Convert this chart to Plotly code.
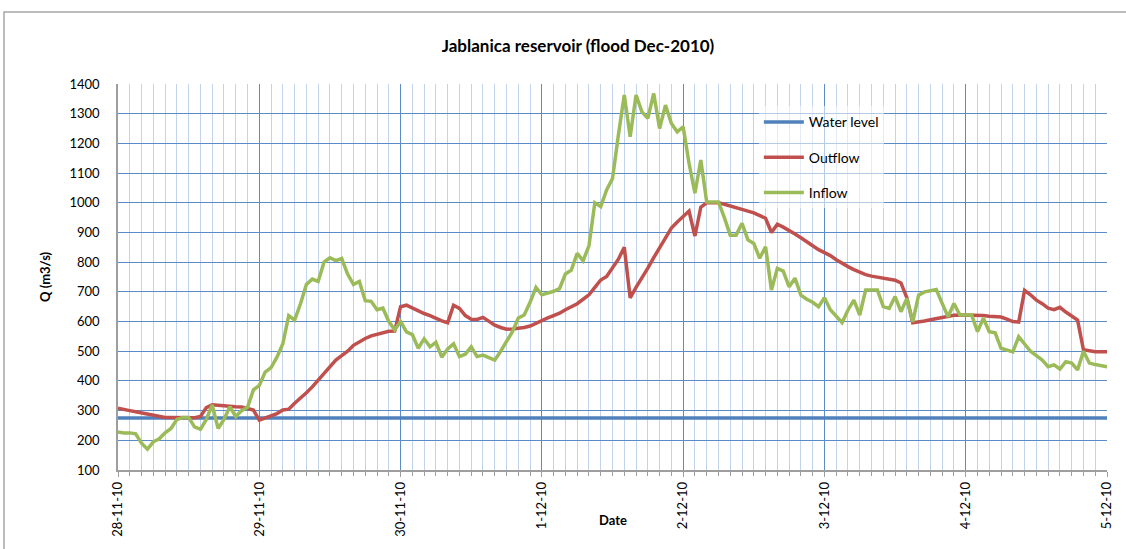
import pandas as pd
import plotly.graph_objects as go

start = "2010-11-28 00:00"
day_labels = ["28-11-10", "29-11-10", "30-11-10", "1-12-10", "2-12-10", "3-12-10", "4-12-10", "5-12-10"]
day_dates = ["2010-11-28", "2010-11-29", "2010-11-30", "2010-12-01", "2010-12-02", "2010-12-03", "2010-12-04", "2010-12-05"]

hours = list(range(169))

inflow = [228, 225, 225, 222, 190, 170, 195, 205, 225, 240, 270, 277, 277, 245, 237, 270, 319, 240, 270, 313,
          280, 300, 311, 370, 385, 430, 445, 480, 525, 620, 605, 660, 725, 743, 735, 800, 815, 805, 812, 760,
          725, 735, 670, 668, 640, 645, 600, 572, 600, 565, 556, 510, 542, 515, 530, 480, 508, 525, 482, 490,
          515, 482, 487, 480, 470, 500, 535, 566, 612, 622, 665, 715, 690, 695, 702, 711, 760, 773, 830, 805,
          855, 1000, 987, 1043, 1082, 1228, 1363, 1222, 1363, 1306, 1284, 1368, 1250, 1329, 1267, 1239, 1256, 1133, 1032, 1144,
          1003, 1003, 1003, 950, 891, 891, 931, 875, 863, 813, 852, 706, 779, 770, 717, 746, 689, 675, 665, 650,
          680, 640, 618, 596, 639, 672, 622, 706, 706, 706, 650, 644, 684, 633, 678, 599, 689, 700, 704, 708,
          661, 616, 661, 622, 622, 622, 566, 611, 566, 562, 510, 504, 498, 549, 525, 500, 485, 470, 448, 454,
          440, 465, 460, 437, 500, 460, 455, 452, 448]

outflow = [308, 305, 300, 296, 292, 288, 284, 280, 277, 277, 277, 276, 275, 276, 280, 310, 320, 318, 315, 315,
           313, 312, 308, 302, 268, 276, 283, 290, 302, 305, 325, 342, 360, 380, 402, 426, 448, 470, 485, 500,
           520, 532, 543, 552, 558, 564, 567, 568, 650, 655, 645, 635, 627, 620, 610, 602, 596, 655, 644, 620,
           608, 607, 614, 600, 588, 580, 574, 575, 577, 580, 585, 595, 605, 612, 620, 628, 640, 650, 660, 675,
           690, 715, 740, 752, 780, 810, 850, 680, 715, 745, 780, 815, 850, 885, 915, 935, 955, 972, 888, 985,
           1000, 1000, 1000, 995, 990, 983, 978, 972, 966, 958, 948, 900, 928, 918, 908, 895, 882, 870, 855, 842,
           832, 822, 808, 795, 785, 775, 765, 758, 753, 749, 746, 742, 739, 730, 680, 596, 598, 602, 606, 610,
           614, 618, 621, 622, 622, 622, 621, 620, 618, 617, 615, 608, 600, 598, 705, 690, 672, 660, 645, 640,
           648, 632, 620, 605, 505, 500, 498, 498, 498]

water_hours = [0, 168]
water_level = [275, 275]

t0 = pd.Timestamp(start)
times = [t0 + pd.Timedelta(hours=h) for h in hours]
water_times = [t0 + pd.Timedelta(hours=h) for h in water_hours]

FONT = "Lato"
L, R, T, B = 118, 19, 84, 79
PW, PH = 1126 - L - R, 549 - T - B

fig = go.Figure()
fig.add_trace(go.Scatter(x=water_times, y=water_level, mode="lines", name="Water level",
                         line=dict(color="#4F81BD", width=3.5), legendgroup="a"))
fig.add_trace(go.Scatter(x=times, y=outflow, mode="lines", name="Outflow",
                         line=dict(color="#C0504D", width=3.5), legendgroup="b"))
fig.add_trace(go.Scatter(x=times, y=inflow, mode="lines", name="Inflow",
                         line=dict(color="#9BBB59", width=3.5), legendgroup="c"))

fig.update_layout(
    width=1126, height=549,
    margin=dict(l=L, r=R, t=T, b=B, autoexpand=False),
    paper_bgcolor="white", plot_bgcolor="white",
    font=dict(family=FONT, size=13, color="black"),
    title=dict(text="<b>Jablanica reservoir (flood Dec-2010)</b>", x=578/1126, xref="container",
               xanchor="center", y=1-46/549, yref="container", yanchor="middle",
               font=dict(family=FONT, size=17, color="black")),
    showlegend=True,
    legend=dict(x=0.648, y=0.942, xanchor="left", yanchor="top", bgcolor="rgba(255,255,255,0.55)",
                font=dict(family=FONT, size=14, color="black"), tracegroupgap=14, itemwidth=40),
)

fig.update_xaxes(
    type="date", automargin=False,
    range=[day_dates[0], day_dates[-1]],
    tickvals=day_dates, ticktext=day_labels, tickangle=-90,
    tickfont=dict(family=FONT, size=13),
    showgrid=True, gridcolor="#5B8CC8", gridwidth=1.3,
    showline=True, linecolor="#9E9E9E", linewidth=1.5,
    ticks="outside", ticklen=5, tickcolor="#9E9E9E",
    minor=dict(dtick=2 * 3600 * 1000, showgrid=True, gridcolor="#C2D4EC", gridwidth=1,
               ticks="outside", ticklen=4, tickcolor="#9E9E9E"),
    zeroline=False,
)

fig.update_yaxes(
    range=[100, 1400], dtick=100, tick0=100, automargin=False,
    tickfont=dict(family=FONT, size=13),
    showgrid=True, gridcolor="#5B8CC8", gridwidth=1.3,
    showline=True, linecolor="#9E9E9E", linewidth=1.5,
    ticks="", ticklabelstandoff=14,
    zeroline=False,
)

fig.add_annotation(text="<b>Date</b>", xref="paper", yref="paper", x=0.5, y=(470 - 520) / PH,
                   xanchor="center", yanchor="middle", showarrow=False,
                   font=dict(family=FONT, size=13, color="black"))
fig.add_annotation(text="<b>Q (m3/s)</b>", xref="paper", yref="paper", x=(45 - L) / PW, y=(470 - 277) / PH,
                   xanchor="center", yanchor="middle", showarrow=False, textangle=-90,
                   font=dict(family=FONT, size=13, color="black"))

# outer chart-area frame
fig.add_shape(type="rect", xref="paper", yref="paper",
              x0=(4 - L) / PW, x1=(1140 - L) / PW,
              y0=(470 - 560) / PH, y1=(470 - 12) / PH,
              line=dict(color="#A6A6A6", width=1.5), fillcolor="rgba(0,0,0,0)", layer="below")

fig.write_html("out.html", config={"displayModeBar": False},
               post_script="document.body.style.margin='0px'; document.body.style.overflow='hidden';")
